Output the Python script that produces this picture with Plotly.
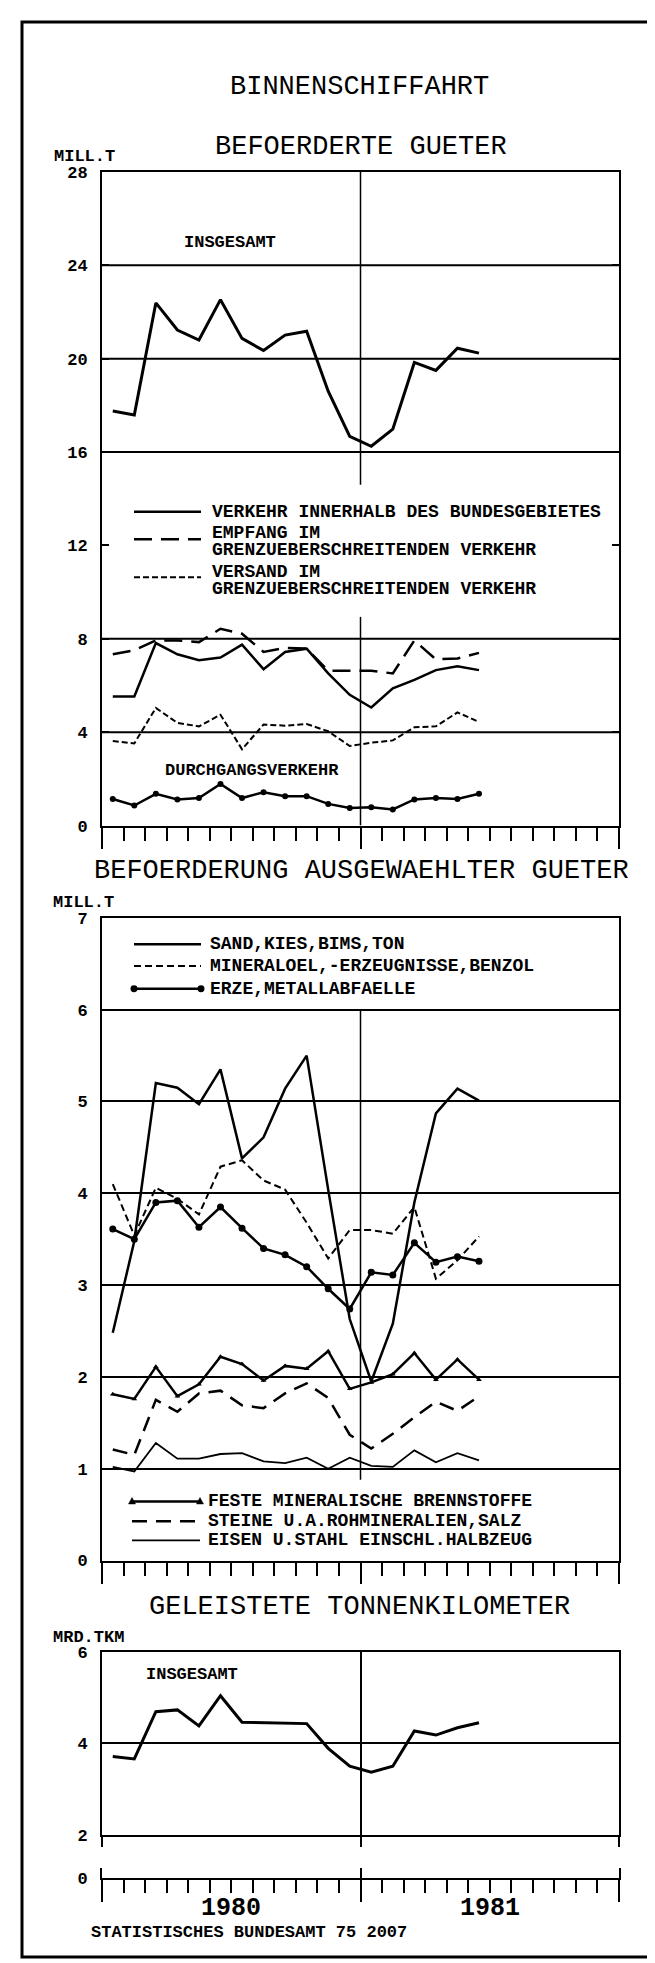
import plotly.graph_objects as go

# ---------------- data ----------------
MONTHS = ["1980-01", "1980-02", "1980-03", "1980-04", "1980-05", "1980-06",
          "1980-07", "1980-08", "1980-09", "1980-10", "1980-11", "1980-12",
          "1981-01", "1981-02", "1981-03", "1981-04", "1981-05", "1981-06"]
YEARS = ["1980", "1981"]

# Befoerderte Gueter (Mill. t)
INSGESAMT_T = [17.76, 17.59, 22.39, 21.23, 20.80, 22.53, 20.87, 20.35, 21.01,
               21.18, 18.61, 16.67, 16.25, 16.98, 19.84, 19.50, 20.45, 20.24]
VERKEHR_INNERHALB = [5.53, 5.53, 7.82, 7.34, 7.08, 7.20, 7.75, 6.70, 7.44,
                     7.58, 6.52, 5.60, 5.06, 5.88, 6.24, 6.66, 6.83, 6.66]
EMPFANG = [7.34, 7.51, 7.93, 7.93, 7.86, 8.43, 8.22, 7.44, 7.61,
           7.58, 6.63, 6.63, 6.63, 6.52, 7.93, 7.12, 7.16, 7.40]
VERSAND = [3.62, 3.52, 5.04, 4.40, 4.25, 4.75, 3.27, 4.33, 4.28,
           4.35, 4.04, 3.41, 3.55, 3.65, 4.21, 4.25, 4.85, 4.44]
DURCHGANG = [1.14, 0.86, 1.36, 1.12, 1.18, 1.78, 1.18, 1.43, 1.26,
             1.26, 0.93, 0.75, 0.79, 0.69, 1.12, 1.18, 1.14, 1.36]

# Befoerderung ausgewaehlter Gueter (Mill. t)
SAND = [2.48, 3.48, 5.20, 5.15, 4.97, 5.35, 4.38, 4.61, 5.14,
        5.50, 4.04, 2.63, 1.95, 2.58, 3.90, 4.87, 5.14, 5.01]
MINERALOEL = [4.10, 3.54, 4.06, 3.94, 3.77, 4.29, 4.36, 4.14, 4.04,
              3.68, 3.29, 3.60, 3.60, 3.56, 3.85, 3.07, 3.27, 3.53]
ERZE = [3.61, 3.50, 3.90, 3.92, 3.63, 3.85, 3.62, 3.40, 3.33,
        3.20, 2.96, 2.74, 3.14, 3.11, 3.46, 3.25, 3.31, 3.26]
FESTE = [1.81, 1.76, 2.11, 1.79, 1.92, 2.22, 2.14, 1.96, 2.12,
         2.09, 2.28, 1.87, 1.94, 2.03, 2.26, 1.97, 2.19, 1.97]
STEINE = [1.21, 1.15, 1.75, 1.62, 1.82, 1.85, 1.69, 1.66, 1.82,
          1.93, 1.77, 1.37, 1.22, 1.38, 1.56, 1.73, 1.63, 1.79]
EISEN = [1.02, 0.97, 1.28, 1.11, 1.11, 1.16, 1.17, 1.08, 1.06,
         1.12, 1.00, 1.12, 1.03, 1.02, 1.20, 1.07, 1.17, 1.09]

# Geleistete Tonnenkilometer (Mrd. tkm)
TKM = [3.71, 3.66, 4.69, 4.73, 4.38, 5.04, 4.46, 4.45, 4.44,
       4.43, 3.89, 3.50, 3.37, 3.50, 4.27, 4.18, 4.34, 4.45]

TICKS_TOP = [0, 4, 8, 12, 16, 20, 24, 28]
GRID_TOP = [4, 8, 16, 20, 24]
TICKS_MID = [0, 1, 2, 3, 4, 5, 6, 7]
TICKS_BOT = [2, 4, 6]

# legend texts (one entry per line)
LEG_TOP = [["VERKEHR INNERHALB DES BUNDESGEBIETES"],
           ["EMPFANG IM", "GRENZUEBERSCHREITENDEN VERKEHR"],
           ["VERSAND IM", "GRENZUEBERSCHREITENDEN VERKEHR"]]
LEG_MID_A = ["SAND,KIES,BIMS,TON", "MINERALOEL,-ERZEUGNISSE,BENZOL", "ERZE,METALLABFAELLE"]
LEG_MID_B = ["FESTE MINERALISCHE BRENNSTOFFE", "STEINE U.A.ROHMINERALIEN,SALZ",
             "EISEN U.STAHL EINSCHL.HALBZEUG"]

# ---------------- layout helpers ----------------
W, H = 655, 1963
FONT = "Liberation Mono"


def px(p):
    return p / W


def py(p):
    return 1 - p / H


XL, XR = 94, 611
NM = 24  # months on axis
xs = [i + 0.5 for i in range(len(MONTHS))]  # month centres
XDOM = [px(XL), px(XR)]

BLACK = "black"

STY = {
    "verkehr": dict(width=2.5, dash="solid"),
    "empfang": dict(width=2.5, dash="18px,9px"),
    "versand": dict(width=2, dash="6px,3px"),
    "sand": dict(width=2.5, dash="solid"),
    "mineral": dict(width=2, dash="7px,4px"),
    "erze": dict(width=2.5, dash="solid"),
    "feste": dict(width=2.5, dash="solid"),
    "steine": dict(width=2.5, dash="15px,9px"),
    "eisen": dict(width=1.8, dash="solid"),
}

fig = go.Figure()


def line_trace(y, name, xa, ya, style=None, width=3, marker=None):
    mode = "lines+markers" if marker else "lines"
    ln = dict(color=BLACK, width=width, dash="solid")
    if style:
        ln.update(STY[style])
    return go.Scatter(
        x=xs, y=y, name=name, mode=mode, xaxis=xa, yaxis=ya, line=ln,
        marker=marker, showlegend=False, customdata=MONTHS,
        hovertemplate="%{customdata}: %{y}<extra>%{fullData.name}</extra>",
    )


# top chart
fig.add_trace(line_trace(INSGESAMT_T, "INSGESAMT", "x", "y"))
fig.add_trace(line_trace(VERKEHR_INNERHALB, " ".join(LEG_TOP[0]), "x", "y", "verkehr"))
fig.add_trace(line_trace(EMPFANG, " ".join(LEG_TOP[1]), "x", "y", "empfang"))
fig.add_trace(line_trace(VERSAND, " ".join(LEG_TOP[2]), "x", "y", "versand"))
fig.add_trace(line_trace(DURCHGANG, "DURCHGANGSVERKEHR", "x", "y", width=2.5,
                         marker=dict(symbol="circle", size=6, color=BLACK)))

# middle chart
fig.add_trace(line_trace(SAND, LEG_MID_A[0], "x2", "y2", "sand"))
fig.add_trace(line_trace(MINERALOEL, LEG_MID_A[1], "x2", "y2", "mineral"))
fig.add_trace(line_trace(ERZE, LEG_MID_A[2], "x2", "y2", "erze",
                         marker=dict(symbol="circle", size=7, color=BLACK)))
fig.add_trace(line_trace(FESTE, LEG_MID_B[0], "x2", "y2", "feste",
                         marker=dict(symbol="triangle-up", size=5, color=BLACK)))
fig.add_trace(line_trace(STEINE, LEG_MID_B[1], "x2", "y2", "steine"))
fig.add_trace(line_trace(EISEN, LEG_MID_B[2], "x2", "y2", "eisen"))

# bottom chart
fig.add_trace(line_trace(TKM, "INSGESAMT (MRD.TKM)", "x3", "y3"))
# empty trace so the broken-axis baseline subplot exists
fig.add_trace(go.Scatter(x=[], y=[], xaxis="x4", yaxis="y4", showlegend=False))

tickfont = dict(family=FONT, size=17, color=BLACK, weight="bold")


def xaxis(anchor, major_len=21, minor=True, grid=False, mirror=True):
    d = dict(
        domain=XDOM, range=[0, NM], anchor=anchor, showline=True, linecolor=BLACK,
        linewidth=2, mirror=mirror, zeroline=False, showticklabels=False,
        ticks="outside", tickmode="array", tickvals=[0, 12, 24], ticklen=major_len,
        tickwidth=2, tickcolor=BLACK, showgrid=grid, gridcolor=BLACK, gridwidth=1.5,
    )
    if minor:
        d["minor"] = dict(ticks="outside", ticklen=13, tickwidth=2, tickcolor=BLACK,
                          tickmode="array", tickvals=list(range(NM + 1)), showgrid=False)
    return d


def yaxis(anchor, dom, rng, tickvals, grid=True, ticktext=None, ticks="inside"):
    d = dict(
        domain=[py(dom[0]), py(dom[1])], range=rng, anchor=anchor, showline=True,
        linecolor=BLACK, linewidth=2, mirror="ticks" if ticks else True, zeroline=False,
        tickmode="array", tickvals=tickvals, ticks=ticks, ticklen=7, tickwidth=2,
        tickcolor=BLACK, showgrid=grid, gridcolor=BLACK, gridwidth=2,
        tickfont=tickfont, ticklabelstandoff=9,
    )
    if ticktext:
        d["ticktext"] = ticktext
    return d


fig.update_layout(
    width=W, height=H, margin=dict(l=0, r=0, t=0, b=0),
    paper_bgcolor="white", plot_bgcolor="rgba(0,0,0,0)",
    font=dict(family=FONT, color=BLACK), showlegend=False,
    xaxis=xaxis("y"),
    yaxis=yaxis("x", (817.5, 157.5), [0, 28], TICKS_TOP, grid=False),
    xaxis2=xaxis("y2"),
    yaxis2=yaxis("x2", (1559.6, 910.7), [0, 7], TICKS_MID),
    xaxis3=xaxis("y3", major_len=10, minor=False, grid=True),
    yaxis3=yaxis("x3", (1836.7, 1651.7), [2, 6], TICKS_BOT),
    xaxis4=xaxis("y4", major_len=22, grid=True, mirror=False),
    yaxis4=yaxis("x4", (1880, 1870), [0, 1], [0], grid=False, ticktext=["0"], ticks=""),
    hovermode="closest",
)

# ---------------- shapes ----------------
shapes = []
for g in GRID_TOP:
    shapes.append(dict(type="line", xref="x", yref="y", x0=0, x1=NM, y0=g, y1=g,
                       line=dict(color=BLACK, width=2), layer="below"))
# year divider, interrupted by the legends
shapes.append(dict(type="line", xref="x", yref="y", x0=12, x1=12, y0=14.6, y1=28,
                   line=dict(color=BLACK, width=1.5), layer="below"))
shapes.append(dict(type="line", xref="x", yref="y", x0=12, x1=12, y0=0, y1=8.94,
                   line=dict(color=BLACK, width=1.5), layer="below"))
shapes.append(dict(type="line", xref="x2", yref="y2", x0=12, x1=12, y0=0.88, y1=6,
                   line=dict(color=BLACK, width=1.5), layer="below"))
# page frame
shapes.append(dict(type="rect", xref="paper", yref="paper", x0=px(14), x1=px(648),
                   y0=py(1960), y1=py(6), line=dict(color=BLACK, width=3)))

# legend keys
def key(x0, x1, y, style, ends=None):
    s = STY[style]
    shapes.append(dict(type="line", xref="paper", yref="paper", x0=px(x0), x1=px(x1),
                       y0=py(y), y1=py(y), line=dict(color=BLACK, width=s["width"], dash=s["dash"])))
    for xe in ([x0, x1] if ends else []):
        if ends == "dot":
            r = 3.5
            shapes.append(dict(type="circle", xref="paper", yref="paper",
                               x0=px(xe - r), x1=px(xe + r), y0=py(y + r), y1=py(y - r),
                               fillcolor=BLACK, line=dict(color=BLACK, width=0)))
        elif ends == "tri":
            path = "M {:.5f} {:.5f} L {:.5f} {:.5f} L {:.5f} {:.5f} Z".format(
                px(xe - 3.5), py(y + 2.5), px(xe + 3.5), py(y + 2.5), px(xe), py(y - 4))
            shapes.append(dict(type="path", xref="paper", yref="paper", path=path,
                               fillcolor=BLACK, line=dict(color=BLACK, width=0.5)))


key(126, 193, 500.7, "verkehr")
key(126, 193, 528.3, "empfang")
key(126, 193, 566.7, "versand")
key(126, 193, 937.3, "sand")
key(126, 193, 959.3, "mineral")
key(126, 193, 982.3, "erze", ends="dot")
key(124, 192, 1500, "feste", ends="tri")
key(124, 192, 1520, "steine")
key(124, 192, 1539.3, "eisen")
fig.update_layout(shapes=shapes)

# ---------------- text ----------------
titlefont = dict(family=FONT, size=27, color=BLACK)
labfont = dict(family=FONT, size=17, color=BLACK, weight="bold")
legfont = dict(family=FONT, size=18, color=BLACK, weight="bold")
anns = [
    dict(text="BINNENSCHIFFAHRT", x=px(351), y=py(72), font=titlefont),
    dict(text="BEFOERDERTE GUETER", x=px(353), y=py(132), font=titlefont),
    dict(text="BEFOERDERUNG AUSGEWAEHLTER GUETER", x=px(353), y=py(863), font=titlefont),
    dict(text="GELEISTETE TONNENKILOMETER", x=px(351), y=py(1607), font=titlefont),
    dict(text="MILL.T", x=px(76), y=py(142), font=labfont),
    dict(text="MILL.T", x=px(75), y=py(895), font=labfont),
    dict(text="MRD.TKM", x=px(80), y=py(1637), font=labfont),
    dict(text="INSGESAMT", x=px(222), y=py(229), font=labfont),
    dict(text="DURCHGANGSVERKEHR", x=px(244), y=py(762), font=labfont),
    dict(text="INSGESAMT", x=px(184), y=py(1675), font=labfont),
    dict(text="STATISTISCHES BUNDESAMT 75 2007", x=px(241), y=py(1935), font=labfont),
]
for a in anns:
    a.update(xanchor="center")


def legtext(x, y, text):
    anns.append(dict(text=text, x=px(x), y=py(y), font=legfont, xanchor="left"))


legtext(202, 500.7, LEG_TOP[0][0])
legtext(202, 521.7, LEG_TOP[1][0])
legtext(202, 539.3, LEG_TOP[1][1])
legtext(202, 561.7, LEG_TOP[2][0])
legtext(202, 578.3, LEG_TOP[2][1])
for k, t in enumerate(LEG_MID_A):
    legtext(200, [937.3, 959.3, 982.3][k], t)
for k, t in enumerate(LEG_MID_B):
    legtext(198, [1500, 1520, 1539.3][k], t)

for a in anns:
    a.update(xref="paper", yref="paper", showarrow=False, yanchor="middle")
for i, yr in enumerate(YEARS):
    anns.append(dict(text=yr, xref="x4", yref="paper", x=6 + 12 * i, y=py(1911),
                     showarrow=False, xanchor="center", yanchor="middle",
                     font=dict(family=FONT, size=25, color=BLACK, weight="bold")))
fig.update_layout(annotations=anns)

fig.write_html("out.html")
